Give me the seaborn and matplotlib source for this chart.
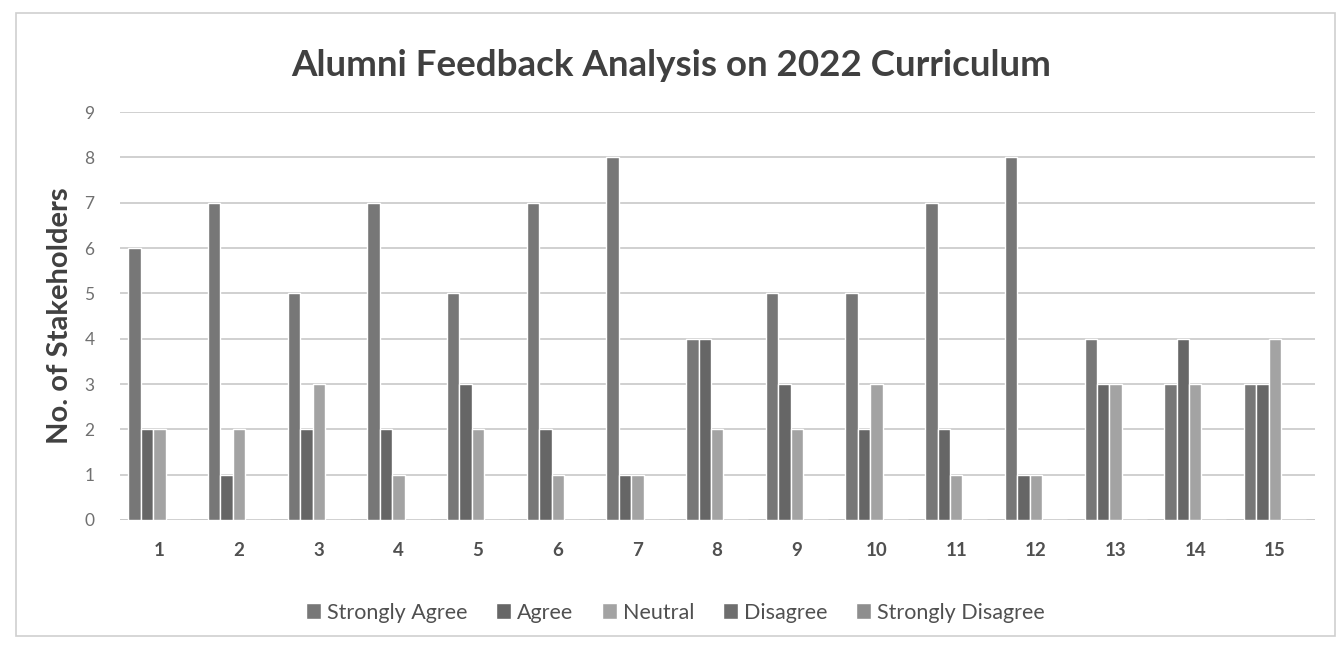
import matplotlib
matplotlib.use("Agg")
import matplotlib.pyplot as plt
import seaborn as sns
import pandas as pd
from matplotlib.patches import Rectangle

questions = [str(i) for i in range(1, 16)]
categories = ["Strongly Agree", "Agree", "Neutral", "Disagree", "Strongly Disagree"]
strongly_agree = [6, 7, 5, 7, 5, 7, 8, 4, 5, 5, 7, 8, 4, 3, 3]
agree = [2, 1, 2, 2, 3, 2, 1, 4, 3, 2, 2, 1, 3, 4, 3]
neutral = [2, 2, 3, 1, 2, 1, 1, 2, 2, 3, 1, 1, 3, 3, 4]
disagree = [0] * 15
strongly_disagree = [0] * 15
colors = ["#777777", "#666666", "#a3a3a3", "#6e6e6e", "#8e8e8e"]

series = [strongly_agree, agree, neutral, disagree, strongly_disagree]
rows = []
for cat, vals in zip(categories, series):
    for q, v in zip(questions, vals):
        rows.append({"Question": q, "Response": cat, "Count": v})
df = pd.DataFrame(rows)

sns.set_theme(style="white")
plt.rcParams["font.family"] = ["Lato", "DejaVu Sans"]

fig = plt.figure(figsize=(13.43, 6.52), dpi=100)
ax = fig.add_axes([0.089, 0.2025, 0.89, 0.6255])

sns.barplot(data=df, x="Question", y="Count", hue="Response", order=questions,
            hue_order=categories, palette=colors, width=0.78, ax=ax,
            edgecolor="white", linewidth=1.0, saturation=1)

ax.set_ylim(0, 9)
ax.set_yticks(range(0, 10))
ax.grid(axis="y", color="#c8c8c8", linewidth=1.2)
ax.set_axisbelow(True)
for s in ax.spines.values():
    s.set_visible(False)
ax.axhline(0, color="#bdbdbd", linewidth=1.2, zorder=0.5)
ax.tick_params(axis="y", labelsize=12.5, colors="#707070", pad=18, length=0)
ax.tick_params(axis="x", labelsize=13.5, colors="#505050", pad=16, length=0)
for t in ax.get_xticklabels():
    t.set_fontweight("bold")
ax.set_xlabel("")
ax.set_ylabel("No. of Stakeholders", fontsize=21, fontweight="bold", color="#404040", labelpad=8)

fig.suptitle("Alumni Feedback Analysis on 2022 Curriculum", x=0.50, y=0.925,
             fontsize=26.5, fontweight="bold", color="#404040")

leg = ax.legend(loc="upper center", bbox_to_anchor=(0.465, -0.155), ncol=5, frameon=False,
                fontsize=15.5, handlelength=0.7, handleheight=0.7, handletextpad=0.3,
                columnspacing=1.3)
for t in leg.get_texts():
    t.set_color("#505050")

fig.patches.append(Rectangle((0.012, 0.025), 0.982, 0.955, transform=fig.transFigure,
                             fill=False, edgecolor="#cfcfcf", linewidth=1.2))

fig.savefig("out.png", dpi=100, facecolor="white")
